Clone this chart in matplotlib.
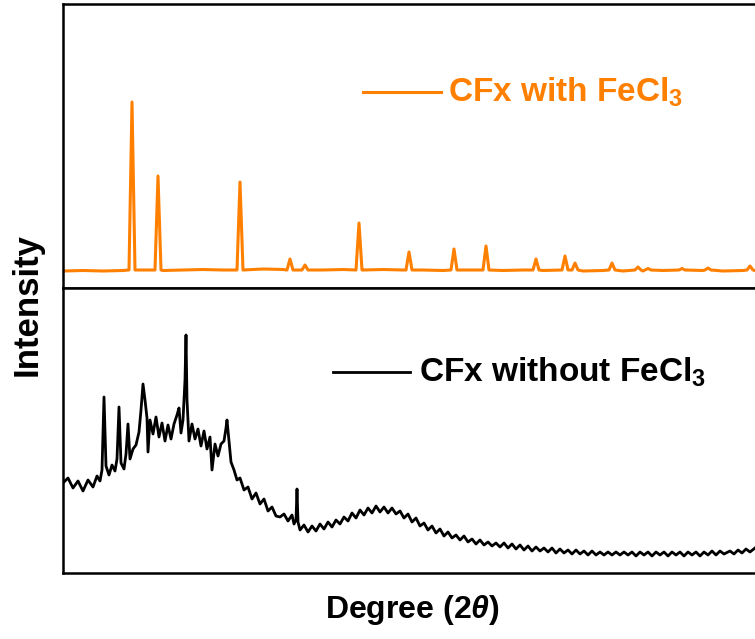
import matplotlib
matplotlib.use("Agg")
import matplotlib.pyplot as plt
import numpy as np

plt.rcParams['font.family'] = ['Liberation Sans', 'DejaVu Sans']
plt.rcParams['font.weight'] = 'bold'
plt.rcParams['mathtext.fontset'] = 'custom'
plt.rcParams['mathtext.rm'] = 'Liberation Sans:bold'
plt.rcParams['mathtext.bf'] = 'Liberation Sans:bold'
plt.rcParams['mathtext.it'] = 'Liberation Sans:italic:bold'

ORANGE = '#ff8000'

# --- CFx with FeCl3 (top panel) ---
base_deg = [10, 12, 14, 16, 18, 20, 22, 24, 26, 28, 30, 32, 34, 36, 38, 40, 42,
            44, 46, 48, 50, 52, 54, 56, 58, 60, 62, 64, 66, 68, 70, 72, 74, 76, 78, 79.2]
base_int = [17, 17.5, 17, 17.5, 18, 17.5, 18, 18.5, 18, 19, 19, 18.5, 19, 18, 18.5, 18,
            18.5, 18, 18, 17.5, 18, 18, 17.5, 18, 17.5, 17.5, 17, 17.5, 17, 17, 17.5, 17,
            17.5, 17, 17.5, 17.5]
peak_deg = [16.9, 19.5, 27.7, 32.7, 34.2, 39.6, 44.6, 49.1, 52.3, 57.3, 60.2, 61.2,
            64.9, 67.5, 68.5, 71.9, 74.5, 78.7]
peak_int = [186, 112, 106, 29, 23, 65, 36, 39, 42, 29, 32, 25, 25, 21, 19.5, 19.5, 20, 22]

# --- CFx without FeCl3 (bottom panel), read in three stretches ---
left_deg = [10.0, 10.5, 11.0, 11.5, 12.0, 12.5, 13.0, 13.4, 13.7, 13.9, 14.1, 14.3, 14.6,
            14.9, 15.2, 15.4, 15.6, 15.8, 16.1, 16.3, 16.5, 16.7, 17.0, 17.3, 17.6, 17.8,
            18.0, 18.2, 18.4, 18.5, 18.7, 19.0, 19.3, 19.6, 19.9, 20.2, 20.5, 20.8, 21.1,
            21.4, 21.6, 21.8, 22.0, 22.2, 22.3, 22.4, 22.6, 22.9, 23.2, 23.5, 23.8, 24.1,
            24.4, 24.7, 24.9, 25.2, 25.5, 25.8, 26.1, 26.3, 26.4, 26.6, 26.8, 27.1, 27.4,
            27.7, 28.1, 28.5, 28.9, 29.3, 29.7, 30.1, 30.5, 30.9, 31.3, 31.7, 32.1, 32.5,
            32.9, 33.1, 33.3, 33.4, 33.5]
left_int = [90, 95, 85, 92, 82, 93, 86, 97, 92, 103, 176, 107, 98,
            108, 102, 114, 166, 110, 104, 119, 149, 114, 124, 128, 141, 163,
            189, 173, 155, 121, 153, 139, 156, 136, 150, 132, 148, 134, 149,
            158, 165, 140, 153, 193, 238, 173, 132, 149, 134, 144, 127, 142,
            124, 136, 103, 129, 117, 129, 132, 145, 153, 132, 111, 103, 93,
            95, 83, 86, 74, 80, 69, 74, 62, 66, 57, 56, 59, 52,
            58, 49, 53, 84, 51]
mid_deg = [33.7, 34.1, 34.5, 34.9, 35.3, 35.7, 36.1, 36.5, 36.9, 37.3, 37.7, 38.1, 38.5,
           38.9, 39.3, 39.7, 40.1, 40.5, 40.9, 41.3, 41.7, 42.1, 42.5, 42.9, 43.3, 43.7,
           44.1, 44.5, 44.9, 45.3, 45.7, 46.1, 46.5, 46.9, 47.3, 47.7, 48.1, 48.5, 48.9,
           49.3, 49.7, 50.1, 50.5, 50.9, 51.3, 51.7, 52.1, 52.5, 52.9, 53.3, 53.7]
mid_int = [43, 48, 41, 47, 42, 49, 44, 51, 46, 53, 49, 56, 52,
           60, 55, 63, 58, 65, 60, 67, 61, 66, 60, 65, 59, 62,
           55, 59, 51, 55, 47, 50, 43, 47, 40, 44, 37, 41, 35,
           38, 33, 37, 31, 34, 29, 33, 28, 31, 27, 30, 26]
tail_deg = [54.1, 54.5, 54.9, 55.3, 55.7, 56.1, 56.5, 56.9, 57.3, 57.7, 58.1, 58.5, 58.9,
            59.3, 59.7, 60.1, 60.5, 60.9, 61.3, 61.7, 62.1, 62.5, 62.9, 63.3, 63.7, 64.1,
            64.5, 64.9, 65.3, 65.7, 66.1, 66.5, 66.9, 67.3, 67.7, 68.1, 68.5, 68.9, 69.3,
            69.7, 70.1, 70.5, 70.9, 71.3, 71.7, 72.1, 72.5, 72.9, 73.3, 73.7, 74.1, 74.5,
            74.9, 75.3, 75.7, 76.1, 76.7, 77.1, 77.5, 77.9, 78.3, 78.7, 79.2]
tail_int = [30, 25, 29, 24, 28, 23, 27, 22, 26, 22, 25, 21, 25,
            20, 24, 20, 23, 19, 23, 19, 22, 18, 22, 18, 21, 18,
            21, 18, 21, 18, 21, 18, 21, 17, 21, 18, 21, 17, 21,
            18, 21, 17, 21, 18, 21, 17, 21, 18, 21, 17, 21, 18,
            22, 18, 22, 19, 22, 19, 23, 20, 24, 21, 25]

# orange profile: baseline + narrow peaks (foot, top, foot)
bx = np.array(base_deg, dtype=float)
by = np.array(base_int, dtype=float)
px = np.array(peak_deg)
py = np.array(peak_int, dtype=float)
keep = np.all(np.abs(bx[:, None] - px[None, :]) > 0.35, axis=1)
ox = np.concatenate([bx[keep], px - 0.3, px, px + 0.3])
oy = np.concatenate([by[keep], np.full(len(px), 18.0), py, np.full(len(px), 18.0)])
order = np.argsort(ox)
ox, oy = ox[order], oy[order]

kx = left_deg + mid_deg + tail_deg
ky = left_int + mid_int + tail_int

fig = plt.figure(figsize=(7.55, 6.39), dpi=100)
left = 63 / 755
width = 1 - left
ax1 = fig.add_axes([left, 1 - 288 / 639, width, 284 / 639])
ax2 = fig.add_axes([left, 1 - 573 / 639, width, 285 / 639])

ax1.plot(ox, oy, color=ORANGE, lw=2.2)
ax2.plot(kx, ky, color='black', lw=2)

ax1.set_ylim(0, 284)
ax2.set_ylim(0, 285)
for ax in (ax1, ax2):
    ax.set_xlim(10, 79.2)
    ax.set_xticks([])
    ax.set_yticks([])
    ax.spines['right'].set_visible(False)
    for s in ('left', 'top', 'bottom'):
        ax.spines[s].set_linewidth(1.8)

# legends drawn by hand
ax1.plot([0.433, 0.546], [0.69, 0.69], color=ORANGE, lw=2.2, transform=ax1.transAxes)
ax1.text(0.557, 0.69, r'CFx with FeCl$_\mathbf{3}$', color=ORANGE, fontsize=24,
         fontweight='bold', va='center', ha='left', transform=ax1.transAxes)
ax2.plot([0.390, 0.501], [0.705, 0.705], color='black', lw=2, transform=ax2.transAxes)
ax2.text(0.514, 0.705, r'CFx without FeCl$_\mathbf{3}$', color='black', fontsize=24,
         fontweight='bold', va='center', ha='left', transform=ax2.transAxes)

fig.text(27 / 755, 1 - 304 / 639, 'Intensity', rotation=90, fontsize=25,
         fontweight='bold', ha='center', va='center')
fig.text(412 / 755, 1 - 610 / 639, r'Degree (2$\mathit{\theta}$)', fontsize=23,
         fontweight='bold', ha='center', va='center')

fig.savefig('out.png', dpi=100)
